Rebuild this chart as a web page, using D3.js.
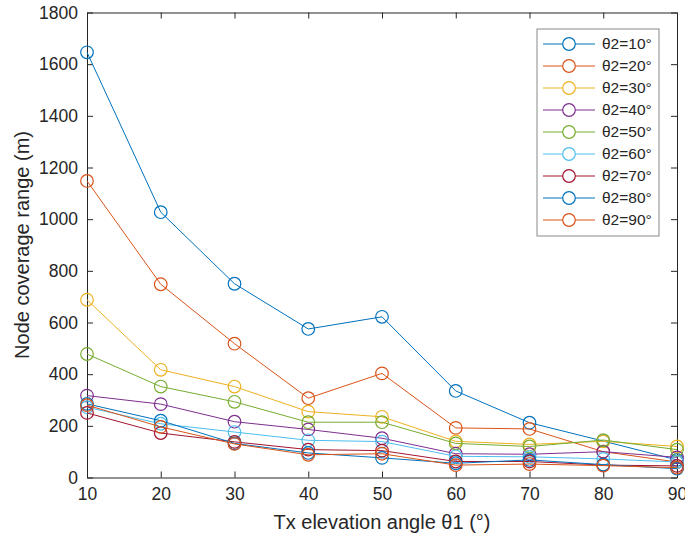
<!DOCTYPE html>
<html>
<head>
<meta charset="utf-8">
<script src="https://cdn.jsdelivr.net/npm/d3@7"></script>
<style>
  html, body { margin: 0; padding: 0; background: #fff; }
  svg { display: block; font-family: "Liberation Sans", Arial, Helvetica, sans-serif; }
</style>
</head>
<body>
<svg id="chart" width="685" height="536"></svg>
<script>
// Tx elevation angle θ1 (degrees)
const elevation = [10, 20, 30, 40, 50, 60, 70, 80, 90];

// Node coverage range (m) for each receiver angle θ2
const theta10 = [1646, 1027, 750, 575, 622, 335, 212, 141, 68];
const theta20 = [1148, 748, 518, 307, 403, 192, 188, 100, 60];
const theta30 = [688, 417, 352, 255, 235, 140, 128, 140, 120];
const theta40 = [317, 284, 216, 186, 152, 92, 90, 100, 78];
const theta50 = [478, 352, 293, 214, 214, 132, 120, 145, 108];
const theta60 = [272, 208, 176, 144, 139, 82, 80, 72, 60];
const theta70 = [250, 172, 138, 108, 104, 62, 62, 48, 45];
const theta80 = [285, 220, 132, 95, 76, 55, 68, 50, 34];
const theta90 = [280, 196, 130, 88, 92, 48, 52, 46, 38];

const seriesNames = ["θ2=10°", "θ2=20°", "θ2=30°", "θ2=40°", "θ2=50°", "θ2=60°", "θ2=70°", "θ2=80°", "θ2=90°"];
const seriesValues = [theta10, theta20, theta30, theta40, theta50, theta60, theta70, theta80, theta90];
const palette = ["#0072BD", "#D95319", "#EDB120", "#7E2F8E", "#77AC30", "#4DBEEE", "#A2142F", "#0072BD", "#D95319"];

const xTicks = [10, 20, 30, 40, 50, 60, 70, 80, 90];
const yTicks = [0, 200, 400, 600, 800, 1000, 1200, 1400, 1600, 1800];

const svg = d3.select("#chart");
const plot = { left: 87, right: 677, top: 12.5, bottom: 477.5 };
const ink = "#262626";

const x = d3.scaleLinear().domain([10, 90]).range([plot.left, plot.right]);
const y = d3.scaleLinear().domain([0, 1800]).range([plot.bottom, plot.top]);

// Axes with inward ticks on all four sides
const tickLen = 6;
const bottomAxis = d3.axisBottom(x).tickValues(xTicks).tickFormat(d3.format("d"))
  .tickSizeInner(-tickLen).tickSizeOuter(0).tickPadding(10);
const leftAxis = d3.axisLeft(y).tickValues(yTicks).tickFormat(d3.format("d"))
  .tickSizeInner(-tickLen).tickSizeOuter(0).tickPadding(9);
const topAxis = d3.axisTop(x).tickValues(xTicks).tickSizeInner(-tickLen).tickSizeOuter(0).tickFormat("");
const rightAxis = d3.axisRight(y).tickValues(yTicks).tickSizeInner(-tickLen).tickSizeOuter(0).tickFormat("");

function styleAxis(g) {
  g.select(".domain").attr("stroke", ink).attr("stroke-width", 1);
  g.selectAll(".tick line").attr("stroke", ink).attr("stroke-width", 1);
  g.selectAll(".tick text").attr("fill", ink).style("font-size", "17.5px")
    .style("font-family", "'Liberation Sans', Arial, sans-serif");
}

svg.append("g").attr("transform", `translate(0,${plot.bottom})`).call(bottomAxis).call(styleAxis);
svg.append("g").attr("transform", `translate(${plot.left},0)`).call(leftAxis).call(styleAxis);
svg.append("g").attr("transform", `translate(0,${plot.top})`).call(topAxis).call(styleAxis);
svg.append("g").attr("transform", `translate(${plot.right},0)`).call(rightAxis).call(styleAxis);

// Axis titles
svg.append("text")
  .attr("x", (plot.left + plot.right) / 2)
  .attr("y", 529)
  .attr("text-anchor", "middle")
  .attr("fill", ink)
  .style("font-size", "20px")
  .text("Tx elevation angle θ1 (°)");

svg.append("text")
  .attr("transform", `translate(29,${(plot.top + plot.bottom) / 2}) rotate(-90)`)
  .attr("text-anchor", "middle")
  .attr("fill", ink)
  .style("font-size", "20px")
  .text("Node coverage range (m)");

// Series lines and circle markers
const line = d3.line().x((d, i) => x(elevation[i])).y(d => y(d));
const markerR = 6.3;

seriesValues.forEach((vals, s) => {
  const g = svg.append("g").attr("class", "series");
  g.append("path")
    .datum(vals)
    .attr("d", line)
    .attr("fill", "none")
    .attr("stroke", palette[s])
    .attr("stroke-width", 1);
  g.selectAll("circle")
    .data(vals)
    .join("circle")
    .attr("cx", (d, i) => x(elevation[i]))
    .attr("cy", d => y(d))
    .attr("r", markerR)
    .attr("fill", "none")
    .attr("stroke", palette[s])
    .attr("stroke-width", 1.2);
});

// Legend
const legend = svg.append("g").attr("transform", "translate(537,29)");
const legendH = 207;
legend.append("rect")
  .attr("width", 122).attr("height", legendH)
  .attr("fill", "#fff")
  .attr("stroke", "#8a8a8a")
  .attr("stroke-width", 1);

seriesNames.forEach((name, s) => {
  const row = legend.append("g").attr("transform", `translate(0,${15 + s * 22})`);
  row.append("line")
    .attr("x1", 6).attr("x2", 58).attr("y1", 0).attr("y2", 0)
    .attr("stroke", palette[s]).attr("stroke-width", 1);
  row.append("circle")
    .attr("cx", 32).attr("cy", 0).attr("r", markerR)
    .attr("fill", "#fff").attr("stroke", palette[s]).attr("stroke-width", 1.2);
  row.append("text")
    .attr("x", 65).attr("y", 0).attr("dy", "0.35em")
    .attr("fill", ink)
    .style("font-size", "15.5px")
    .text(name);
});
</script>
</body>
</html>
